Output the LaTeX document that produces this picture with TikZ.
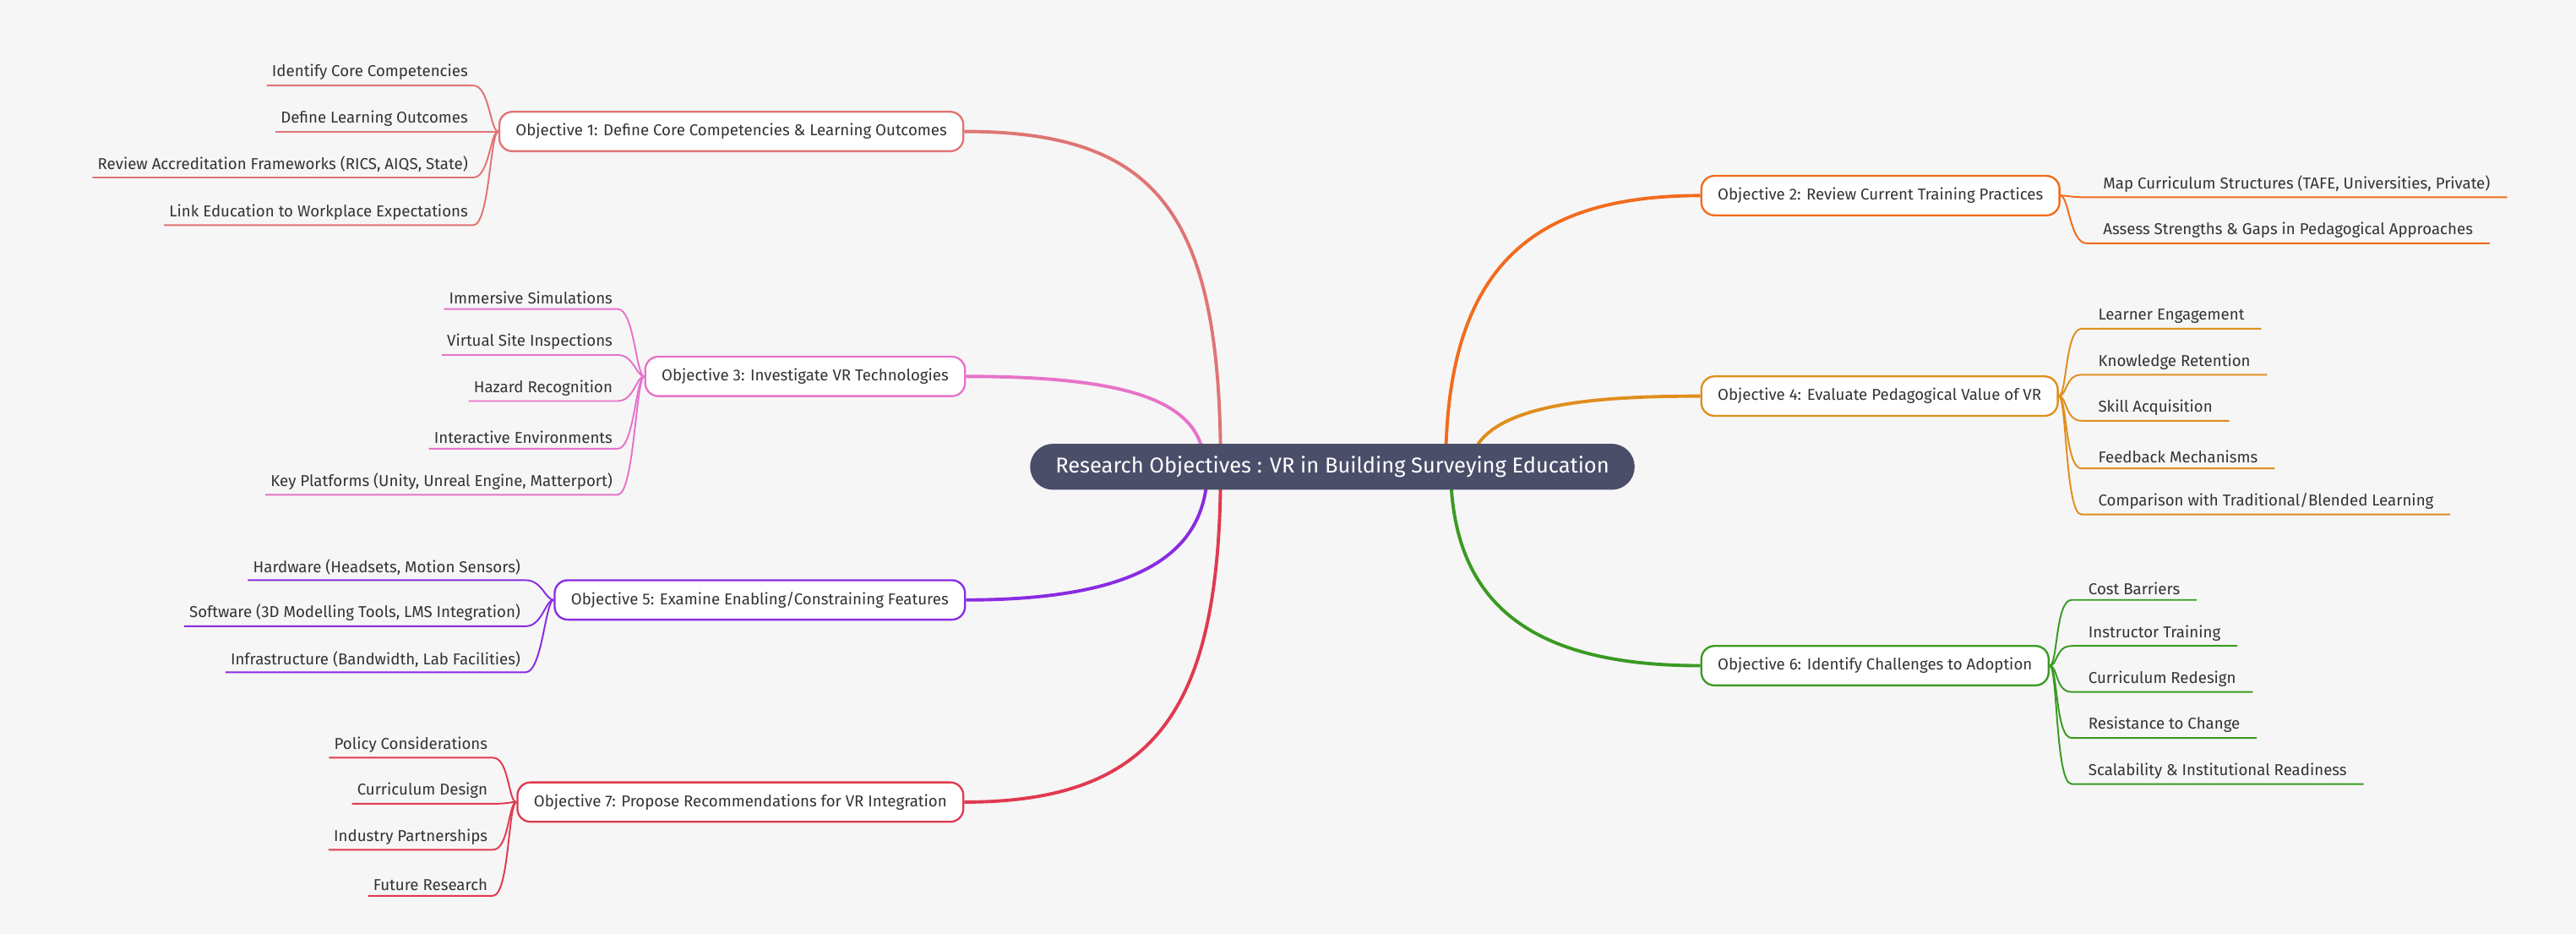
\documentclass[tikz,border=0pt]{standalone}
\usepackage{fontspec}
\setmainfont{Fira Sans}
\usetikzlibrary{backgrounds}
\definecolor{bg}{HTML}{F6F6F6}
\definecolor{cA}{HTML}{E07474}
\definecolor{cB}{HTML}{F26B1D}
\definecolor{cC}{HTML}{E673C9}
\definecolor{cD}{HTML}{E08E1D}
\definecolor{cE}{HTML}{8A2BE2}
\definecolor{cF}{HTML}{3A9A22}
\definecolor{cG}{HTML}{E03A50}
\definecolor{hub}{HTML}{4A4E69}
\definecolor{txt}{HTML}{333333}
\tikzset{
 objbox/.style={draw=#1,line width=1.2pt,fill=white,rounded corners=8pt,minimum height=24pt,inner xsep=10pt,font=\fontsize{9.6}{11}\selectfont,text=txt},
 leafL/.style={anchor=south east,inner xsep=3pt,inner ysep=3pt,font=\fontsize{9.6}{11}\selectfont,text=txt},
 leafR/.style={anchor=south west,inner xsep=10pt,inner ysep=3pt,font=\fontsize{9.6}{11}\selectfont,text=txt},
 lk/.style={draw=#1,line width=1pt},
 mainlk/.style={draw=#1,line width=2pt},
}
\newcommand{\lleaves}[3]{%
 \foreach \yy/\lt in {#3}{
  \node[leafL] (n) at (\leafx,\yy) {\lt};
  \draw[lk=#2] (n.south west) -- (n.south east) .. controls +(10,0) and +(-5,0) .. (#1.west);
 }}
\newcommand{\rleaves}[3]{%
 \foreach \yy/\lt in {#3}{
  \node[leafR] (n) at (\leafx,\yy) {\lt};
  \draw[lk=#2] (n.south east) -- (n.south west) .. controls +(-10,0) and +(5,0) .. (#1.east);
 }}
\begin{document}
\begin{tikzpicture}[x=1pt,y=-1pt]
\node[fill=hub,rounded corners=14pt,minimum height=28pt,minimum width=368pt,text=white,font=\fontsize{13.1}{15}\selectfont] (hub) at (811,284) {Research Objectives : VR in Building Surveying Education};
\node[objbox=cA,anchor=east] (o1) at (587,80) {Objective 1: Define Core Competencies \& Learning Outcomes};
\node[objbox=cC,anchor=east] (o3) at (588,229) {Objective 3: Investigate VR Technologies};
\node[objbox=cE,anchor=east] (o5) at (588,365) {Objective 5: Examine Enabling/Constraining Features};
\node[objbox=cG,anchor=east] (o7) at (587,488) {Objective 7: Propose Recommendations for VR Integration};
\node[objbox=cB,anchor=west] (o2) at (1035,119) {Objective 2: Review Current Training Practices};
\node[objbox=cD,anchor=west] (o4) at (1035,241) {Objective 4: Evaluate Pedagogical Value of VR};
\node[objbox=cF,anchor=west] (o6) at (1035,405) {Objective 6: Identify Challenges to Adoption};
\begin{scope}[on background layer]
\fill[bg] (0,0) rectangle (1568,568);
\coordinate (h1) at (743,284); \coordinate (h3) at (733,284);
\coordinate (h5) at (735,284); \coordinate (h7) at (743,284);
\coordinate (h2) at (880,284); \coordinate (h4) at (897,275);
\coordinate (h6) at (883,284);
\draw[mainlk=cA] (o1.east) .. controls (705,80) and (743,130) .. (h1);
\draw[mainlk=cC] (o3.east) .. controls (690,229) and (733,245) .. (h3);
\draw[mainlk=cE] (o5.east) .. controls (705,365) and (735,330) .. (h5);
\draw[mainlk=cG] (o7.east) .. controls (705,488) and (743,430) .. (h7);
\draw[mainlk=cB] (h2) .. controls (880,160) and (935,119) .. (o2.west);
\draw[mainlk=cD] (h4) .. controls (910,245) and (975,241) .. (o4.west);
\draw[mainlk=cF] (h6) .. controls (883,370) and (935,405) .. (o6.west);
\end{scope}
\def\leafx{288}
\lleaves{o1}{cA}{52/Identify Core Competencies,80/Define Learning Outcomes,108/{Review Accreditation Frameworks (RICS, AIQS, State)},137/Link Education to Workplace Expectations}
\def\leafx{376}
\lleaves{o3}{cC}{188/Immersive Simulations,216/Virtual Site Inspections,244/Hazard Recognition,273/Interactive Environments,301/{Key Platforms (Unity, Unreal Engine, Matterport)}}
\def\leafx{320}
\lleaves{o5}{cE}{353/{Hardware (Headsets, Motion Sensors)},381/{Software (3D Modelling Tools, LMS Integration)},409/{Infrastructure (Bandwidth, Lab Facilities)}}
\def\leafx{300}
\lleaves{o7}{cG}{461/Policy Considerations,489/Curriculum Design,517/Industry Partnerships,545/Future Research}
\def\leafx{1270}
\rleaves{o2}{cB}{120/{Map Curriculum Structures (TAFE, Universities, Private)},148/Assess Strengths \& Gaps in Pedagogical Approaches}
\def\leafx{1267}
\rleaves{o4}{cD}{200/Learner Engagement,228/Knowledge Retention,256/Skill Acquisition,285/Feedback Mechanisms,313/{Comparison with Traditional/Blended Learning}}
\def\leafx{1261}
\rleaves{o6}{cF}{365/Cost Barriers,393/Instructor Training,421/Curriculum Redesign,449/Resistance to Change,477/Scalability \& Institutional Readiness}
\end{tikzpicture}
\end{document}
